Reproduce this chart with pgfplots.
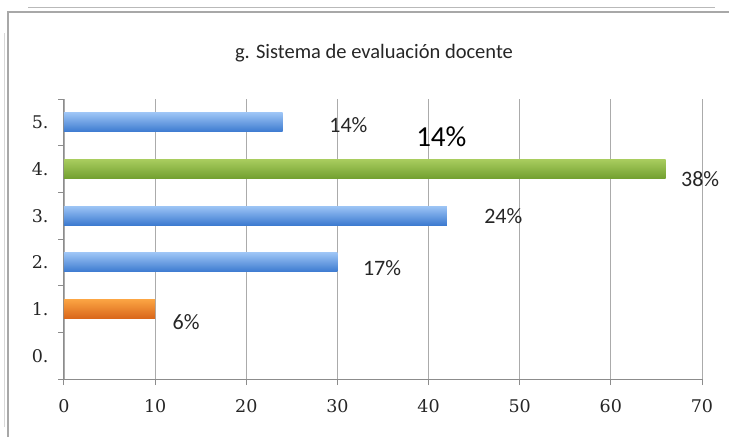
\documentclass[border=0pt]{standalone}
\usepackage{pgfplots}
\pgfplotsset{compat=1.18}
\usepackage{fontspec}
\setmainfont{Carlito}
\newfontfamily\tickfont{DejaVu Serif}
\definecolor{blueT}{HTML}{9CC4F5}
\definecolor{blueB}{HTML}{3C7AD0}
\definecolor{greenT}{HTML}{A8CC5E}
\definecolor{greenB}{HTML}{72A030}
\definecolor{orangeT}{HTML}{FBA443}
\definecolor{orangeB}{HTML}{D9661A}
\definecolor{frameGray}{HTML}{A8A8A8}
\definecolor{axisGray}{HTML}{8C8C8C}
\definecolor{gridGray}{HTML}{ABABAB}
\begin{document}
\begin{tikzpicture}[x=1pt,y=1pt]
\useasboundingbox (0,0) rectangle (729,437);
\draw[color=frameGray, line width=1.3pt] (8,0) -- (8,425) -- (729,425);
\draw[color=frameGray!80, line width=1pt] (28,429) -- (715,429);
\draw[color=frameGray!45, line width=1pt] (4,10) -- (4,404);
\node[font=\fontsize{20.5}{24}\selectfont, text=black!85] at (374,384) {g. Sistema de evaluación docente};
\begin{axis}[
  at={(64pt,58pt)}, anchor=south west,
  scale only axis, width=638pt, height=280pt,
  xmin=0, xmax=70, ymin=-0.5, ymax=5.5,
  xbar, bar width=19pt, bar shift=0pt,
  axis lines*=left,
  axis line style={color=axisGray, line width=1pt},
  xtick={0,10,...,70},
  ytick={0,1,2,3,4,5},
  yticklabels={0.,1.,2.,3.,4.,5.},
  minor ytick={-0.5,0.5,1.5,2.5,3.5,4.5,5.5},
  major tick length=0pt,
  minor tick length=6pt,
  tick align=outside,
  every tick/.style={color=axisGray, line width=1pt},
  every minor tick/.style={color=axisGray, line width=1pt},
  extra x ticks={0,10,...,70}, extra x tick labels={},
  extra x tick style={major tick length=6pt, grid=none},
  xmajorgrids,
  major grid style={color=gridGray, line width=0.9pt},
  /pgf/number format/assume math mode=true,
  ticklabel style={font=\tickfont\fontsize{17.5}{20}\selectfont, text=black!85},
  yticklabel style={xshift=-12pt},
  xticklabel style={yshift=-17pt},
  clip=false,
]
\addplot[draw=none, top color=blueT, bottom color=blueB] coordinates {(24,5)};
\addplot[draw=none, top color=greenT, bottom color=greenB] coordinates {(66,4)};
\addplot[draw=none, top color=blueT, bottom color=blueB] coordinates {(42,3)};
\addplot[draw=none, top color=blueT, bottom color=blueB] coordinates {(30,2)};
\addplot[draw=none, top color=orangeT, bottom color=orangeB] coordinates {(10,1)};
\begin{scope}[every node/.style={font=\fontsize{22}{25}\selectfont, text=black!85}]
\node at (axis cs:31.2,4.94) {14\%};
\node at (axis cs:69.8,3.78) {38\%};
\node at (axis cs:48.2,3.00) {24\%};
\node at (axis cs:34.9,1.87) {17\%};
\node at (axis cs:13.4,0.71) {6\%};
\end{scope}
\node[font=\fontsize{29}{33}\selectfont, text=black] at (axis cs:41.4,4.69) {14\%};
\end{axis}
\end{tikzpicture}
\end{document}
